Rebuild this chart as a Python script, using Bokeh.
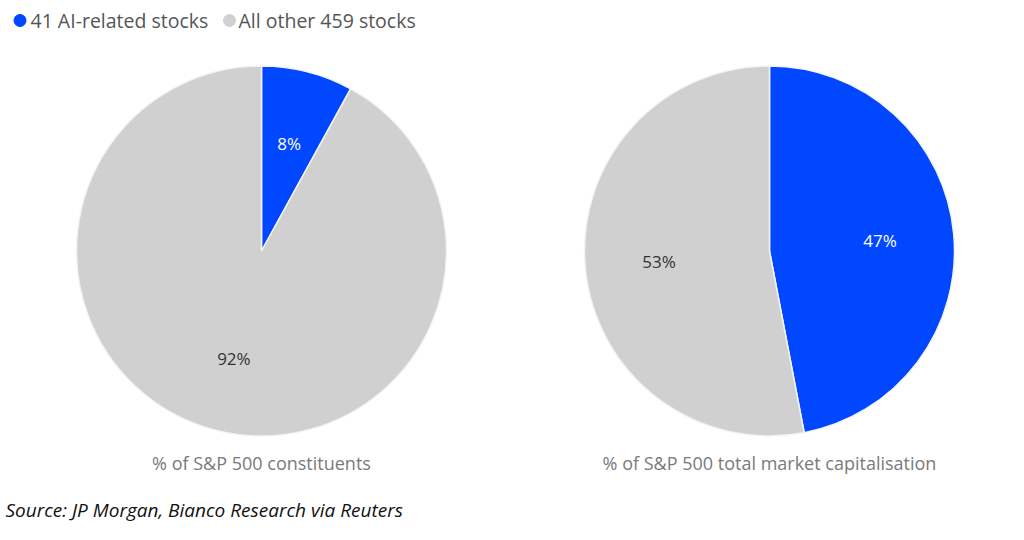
import math
from bokeh.plotting import figure
from bokeh.models import Range1d, ColumnDataSource
from bokeh.core.properties import value
from bokeh.embed import file_html
from bokeh.resources import INLINE

# ---- data ----
categories = ["41 AI-related stocks", "All other 459 stocks"]
colors = ["#0047ff", "#d0d0d0"]
pie_titles = ["% of S&P 500 constituents", "% of S&P 500 total market capitalisation"]
constituents_pct = [8, 92]
market_cap_pct = [47, 53]
source_note = "Source: JP Morgan, Bianco Research via Reuters"

W, H = 1008, 524
p = figure(width=W, height=H, output_backend="svg", toolbar_location=None,
           x_range=Range1d(0, W), y_range=Range1d(540 - H, 540),
           min_border=0, outline_line_color=None)
p.axis.visible = False
p.grid.visible = False
p.background_fill_color = "white"
p.border_fill_color = "white"

def Y(img_y):
    return 540 - img_y

FONT = value("Open Sans")
R = 185
centers = [(261, 250.5), (769, 250.5)]
LABEL_R = 0.6
label_colors = ["white", "#333333"]

for k, vals in enumerate([constituents_pct, market_cap_pct]):
    cx, cy = centers[k]
    total = float(sum(vals))
    start = math.pi / 2
    starts, ends, lx, ly, txt = [], [], [], [], []
    for i, v in enumerate(vals):
        sweep = 2 * math.pi * v / total
        end = start - sweep
        starts.append(start)
        ends.append(end)
        mid = (start + end) / 2
        rr = R * LABEL_R
        lx.append(cx + rr * math.cos(mid))
        ly.append(Y(cy) + rr * math.sin(mid))
        txt.append(f"{v}%")
        start = end
    src = ColumnDataSource(dict(x=[cx] * len(vals), y=[Y(cy)] * len(vals),
                                s=starts, e=ends, c=colors))
    p.wedge(x="x", y="y", radius=R, start_angle="s", end_angle="e",
            direction="clock", fill_color="c", line_color="#f4f4f4",
            line_width=1.5, source=src)
    p.text(x=lx, y=ly, text=txt, text_color=label_colors,
           text_align="center", text_baseline="middle",
           text_font=FONT, text_font_size="17px")
    p.text(x=[cx], y=[Y(462)], text=[pie_titles[k]], text_color="#7a7a7a",
           text_align="center", text_baseline="middle",
           text_font=FONT, text_font_size="18px")

# legend
leg_x = [19.5, 229]
text_x = [30, 238]
p.scatter(x=leg_x, y=[Y(20)] * 2, size=12, color=colors, marker="circle")
p.text(x=text_x, y=[Y(20)] * 2, text=categories,
       text_color="#555555", text_align="left", text_baseline="middle",
       text_font=FONT, text_font_size="19.5px")

# source
p.text(x=[5], y=[Y(509)], text=[source_note], text_color="#111111",
       text_align="left", text_baseline="middle",
       text_font=FONT, text_font_style="italic", text_font_size="19px")

open("out.html", "w").write(file_html(p, INLINE))
